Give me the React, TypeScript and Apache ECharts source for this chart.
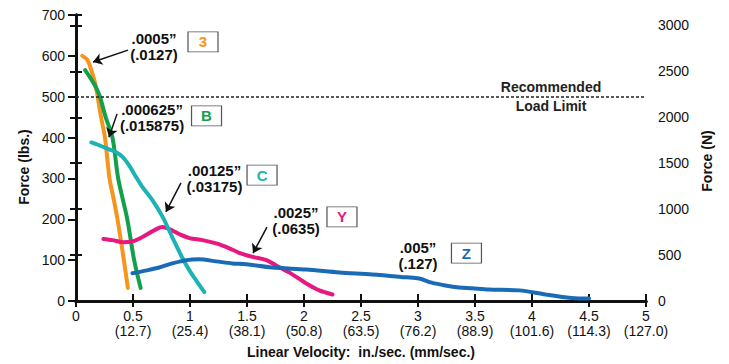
import React, { useEffect, useRef } from 'react';
import * as echarts from 'echarts';

const FONT = '"Liberation Sans", Arial, Helvetica, sans-serif';
const LBF_TO_N = 4.44822;

const xMin = 0;
const xMax = 5;
const xInterval = 0.5;
const xTickLabels = ['0', '0.5\n(12.7)', '1\n(25.4)', '1.5\n(38.1)', '2\n(50.8)', '2.5\n(63.5)', '3\n(76.2)', '3.5\n(88.9)', '4\n(101.6)', '4.5\n(114.3)', '5\n(127.0)'];
const lbsMax = 700;
const lbsInterval = 100;
const newtonInterval = 500;

const colors = { s3: '#F7941E', sB: '#12A04B', sC: '#1DB3B5', sY: '#E5197F', sZ: '#1A6BB6' };

const curve3 = [[0.055, 600], [0.1, 590], [0.14, 560], [0.17, 530], [0.19, 500], [0.22, 450], [0.254, 400], [0.294, 300], [0.33, 250], [0.364, 200], [0.42, 100], [0.455, 32]];
const curveB = [[0.08, 565], [0.14, 540], [0.18, 520], [0.21, 500], [0.26, 450], [0.32, 400], [0.37, 300], [0.45, 200], [0.51, 100], [0.567, 32]];
const curveC = [[0.135, 388], [0.205, 381], [0.275, 373], [0.345, 365], [0.41, 352], [0.47, 330], [0.53, 302], [0.58, 280], [0.67, 247], [0.76, 206], [0.845, 156], [0.93, 107], [0.995, 75], [1.055, 50], [1.125, 22]];
const curveY = [[0.24, 152], [0.32, 149], [0.41, 144], [0.495, 146], [0.58, 156], [0.705, 176], [0.76, 181], [0.82, 176], [0.905, 164], [0.995, 154], [1.11, 149], [1.23, 141], [1.345, 129], [1.43, 118], [1.55, 108], [1.67, 100], [1.755, 87], [1.87, 70], [2.02, 43], [2.135, 26], [2.25, 16]];
const curveZ = [[0.495, 68], [0.62, 75], [0.73, 82], [0.845, 92], [0.97, 100], [1.08, 102], [1.23, 97], [1.37, 92], [1.495, 90], [1.72, 82], [2.02, 77], [2.31, 70], [2.6, 65], [2.895, 58], [3.01, 55], [3.12, 45], [3.24, 38], [3.36, 33], [3.475, 31], [3.62, 28], [3.89, 26], [4.12, 16], [4.41, 6], [4.5, 6]];

const loadLimit = 500;
const loadLimitLabelX = 4.167;

const boxLabels = ['3', 'B', 'C', 'Y', 'Z'];
const boxColors = [colors.s3, colors.sB, colors.sC, colors.sY, colors.sZ];
const boxCoords = [[1.114, 634], [1.145, 453], [1.632, 308], [2.333, 206], [3.425, 117]];
const gapTexts = ['.0005”\n(.0127)', '.000625”\n(.015875)', '.00125”\n(.03175)', '.0025”\n(.0635)', '.005”\n(.127)'];
const gapTextCoords = [[0.684, 624], [0.667, 449], [1.215, 300], [1.93, 197], [3.0, 111]];
const arrowFrom = [[0.456, 614], [0.36, 458], [0.921, 289], [1.675, 181]];
const arrowTo = [[0.149, 585], [0.289, 401], [0.789, 218], [1.553, 117]];

const axisLine = { show: true, lineStyle: { color: '#111', width: 3 } };

export default function App() {
  const ref = useRef<HTMLDivElement>(null);
  useEffect(() => {
    document.body.style.margin = '0';
    if (!ref.current) return;
    const chart = echarts.init(ref.current, null, { renderer: 'svg' });
    const lineSeries = (name: string, data: number[][], color: string) => ({
      name,
      type: 'line',
      data,
      smooth: 0.3,
      symbol: 'none',
      xAxisIndex: 0,
      yAxisIndex: 0,
      lineStyle: { color, width: 4, cap: 'round' },
      itemStyle: { color },
      silent: true,
    });
    const option = {
      animation: false,
      textStyle: { fontFamily: FONT },
      grid: { left: 76, right: 83, top: 15, bottom: 63 },
      xAxis: [
        {
          type: 'value', position: 'bottom', min: xMin, max: xMax, interval: xInterval,
          name: 'Linear Velocity:  in./sec. (mm/sec.)', nameLocation: 'middle', nameGap: 44,
          nameTextStyle: { fontFamily: FONT, fontSize: 14, fontWeight: 'bold', color: '#111' },
          axisLine,
          axisTick: { show: true, inside: false, length: 6, lineStyle: { color: '#111', width: 2 } },
          axisLabel: {
            margin: 7, fontFamily: FONT, fontSize: 14, lineHeight: 15, color: '#111',
            formatter: (v: number) => xTickLabels[Math.round(v / xInterval)] ?? '',
          },
          splitLine: { show: false },
        },
        {
          type: 'value', position: 'bottom', min: xMin, max: xMax, interval: xInterval,
          axisLine,
          axisTick: { show: true, inside: true, length: 7, lineStyle: { color: '#111', width: 2 } },
          axisLabel: { show: false },
          splitLine: { show: false },
        },
        {
          type: 'value', position: 'top', min: xMin, max: xMax,
          axisLine, axisTick: { show: false }, axisLabel: { show: false }, splitLine: { show: false },
        },
      ],
      yAxis: [
        {
          type: 'value', position: 'left', min: 0, max: lbsMax, interval: lbsInterval,
          name: 'Force (lbs.)', nameLocation: 'middle', nameGap: 32, nameRotate: 90,
          nameTextStyle: { fontFamily: FONT, fontSize: 14, fontWeight: 'bold', color: '#111', padding: [0, 18, 0, 0] },
          axisLine,
          axisTick: { show: true, inside: false, length: 8, lineStyle: { color: '#111', width: 2 } },
          axisLabel: { margin: 11, fontFamily: FONT, fontSize: 14, color: '#111' },
          splitLine: { show: false },
        },
        {
          type: 'value', position: 'right', min: 0, max: lbsMax * LBF_TO_N, interval: newtonInterval,
          name: 'Force (N)', nameLocation: 'middle', nameGap: 41, nameRotate: 90,
          nameTextStyle: { fontFamily: FONT, fontSize: 14, fontWeight: 'bold', color: '#111', padding: [0, 6, 0, 0] },
          axisLine,
          axisTick: { show: true, inside: false, length: 6, lineStyle: { color: '#111', width: 2 } },
          axisLabel: {
            margin: 12, fontFamily: FONT, fontSize: 14, color: '#111',
            formatter: (v: number) => (Math.abs(v % newtonInterval) < 1e-6 ? String(v) : ''),
          },
          splitLine: { show: false },
        },
        {
          type: 'value', position: 'right', min: 0, max: lbsMax * LBF_TO_N, interval: newtonInterval,
          axisLine,
          axisTick: { show: true, inside: true, length: 6, lineStyle: { color: '#111', width: 2 } },
          axisLabel: { show: false },
          splitLine: { show: false },
        },
      ],
      series: [
        {
          name: 'limit', type: 'scatter', data: [], xAxisIndex: 0, yAxisIndex: 0, silent: true,
          markLine: {
            silent: true, symbol: 'none', animation: false,
            label: { show: false },
            lineStyle: { color: '#222', width: 1.5, type: [3, 2] },
            data: [{ yAxis: loadLimit }],
          },
          markPoint: {
            silent: true, symbol: 'rect', symbolSize: 1, itemStyle: { color: 'transparent' },
            label: {
              show: true, position: 'inside', fontFamily: FONT, fontSize: 14, fontWeight: 'bold', color: '#222',
              formatter: '{a|Recommended}\n{a|Load Limit}',
              rich: { a: { fontFamily: FONT, fontSize: 14, fontWeight: 'bold', color: '#222', lineHeight: 19 } },
            },
            data: [{ coord: [loadLimitLabelX, loadLimit] }],
          },
        },
        lineSeries('3', curve3, colors.s3),
        lineSeries('B', curveB, colors.sB),
        lineSeries('Y', curveY, colors.sY),
        lineSeries('C', curveC, colors.sC),
        lineSeries('Z', curveZ, colors.sZ),
        {
          name: 'notes', type: 'scatter', data: [], xAxisIndex: 0, yAxisIndex: 0, silent: true, z: 5,
          markLine: {
            silent: true, symbol: ['none', 'arrow'], symbolSize: 9, animation: false,
            label: { show: false },
            lineStyle: { color: '#111', width: 1.5, type: 'solid' },
            data: arrowFrom.map((a, i) => [{ coord: a }, { coord: arrowTo[i] }]),
          },
          markPoint: {
            silent: true, animation: false,
            data: [
              ...boxCoords.map((c, i) => ({
                coord: c, symbol: 'rect', symbolSize: [30, 20],
                itemStyle: { color: '#fff', borderColor: '#555', borderWidth: 1 },
                label: { show: true, position: 'inside', formatter: boxLabels[i], fontFamily: FONT, fontSize: 15, fontWeight: 'bold', color: boxColors[i] },
              })),
              ...gapTextCoords.map((c, i) => ({
                coord: c, symbol: 'rect', symbolSize: 1,
                itemStyle: { color: 'transparent' },
                label: { show: true, position: 'inside', formatter: gapTexts[i], fontFamily: FONT, fontSize: 15, fontWeight: 'bold', lineHeight: 16, color: '#111', align: 'center' },
              })),
            ],
          },
        },
      ],
    };
    chart.setOption(option as any);
    return () => chart.dispose();
  }, []);
  return <div ref={ref} style={{ width: 729, height: 364 }} />;
}
